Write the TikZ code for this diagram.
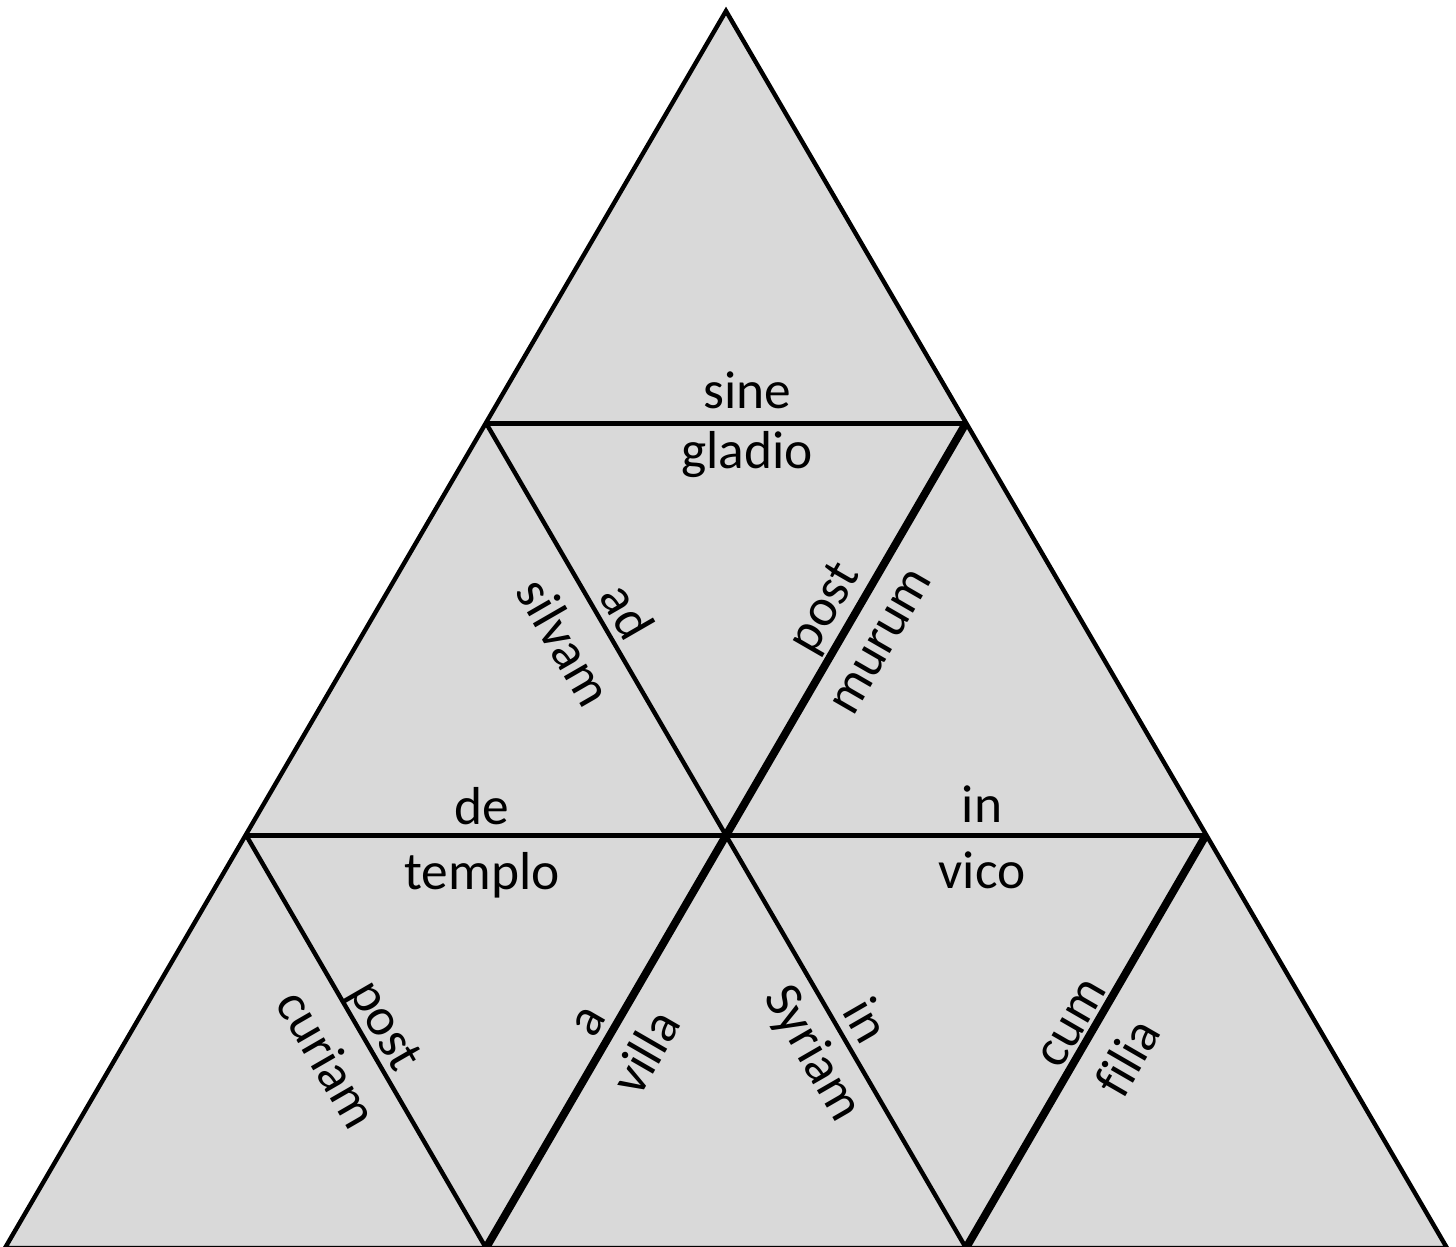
\documentclass[tikz,border=0pt]{standalone}
\usepackage{fontspec}
\setmainfont[Ligatures=NoCommon]{Carlito}
\definecolor{trifill}{HTML}{D9D9D9}
\begin{document}
\begin{tikzpicture}[x=0.5pt,y=-0.5pt,
  outline/.style={draw=black,line width=2.2pt,line join=miter},
  thinedge/.style={draw=black,line width=2.2pt},
  flatedge/.style={draw=black,line width=2.5pt},
  thickedge/.style={draw=black,line width=3.9pt},
  lbl/.style={inner sep=0pt,font=\fontsize{26.7}{32}\selectfont}]
\useasboundingbox (0,0) rectangle (1456,1247);
\coordinate (T) at (726,11);
\coordinate (L1) at (486,423);
\coordinate (R1) at (966,423);
\coordinate (L2) at (246,835);
\coordinate (M2) at (726,835);
\coordinate (R2) at (1206,835);
\coordinate (B0) at (5,1248);
\coordinate (B1) at (486,1248);
\coordinate (B2) at (966,1248);
\coordinate (B3) at (1447,1248);
\fill[trifill] (T) -- (B0) -- (B3) -- cycle;
\draw[flatedge] (L1) -- (R1);
\draw[flatedge] (L2) -- (R2);
\draw[thinedge] (L1) -- (B2);
\draw[thinedge] (L2) -- (B1);
\draw[thickedge] (R1) -- (B1);
\draw[thickedge] (R2) -- (B2);
\draw[outline] (T) -- (B0) -- (B3) -- cycle;
\node[lbl] (sine) at (747,390) {sine};
\node[lbl] (gladio) at (747,455) {gladio};
\node[lbl] (de) at (482,806) {de};
\node[lbl] (templo) at (482,875) {templo};
\node[lbl] (in1) at (982,804) {in};
\node[lbl] (vico) at (982,870) {vico};
\node[lbl,rotate=-60] (ad) at (628,611) {ad};
\node[lbl,rotate=-60] (silvam) at (565,642) {silvam};
\node[lbl,rotate=60] (post1) at (826,609) {post};
\node[lbl,rotate=60] (murum) at (882,642) {murum};
\node[lbl,rotate=-60] (post2) at (383,1027) {post};
\node[lbl,rotate=-60] (curiam) at (328,1059) {curiam};
\node[lbl,rotate=60] (a) at (590,1022) {a};
\node[lbl,rotate=60] (villa) at (645,1052) {villa};
\node[lbl,rotate=-60] (in2) at (867,1020) {in};
\node[lbl,rotate=-60] (syriam) at (812,1054) {Syriam};
\node[lbl,rotate=60] (cum) at (1073,1024) {cum};
\node[lbl,rotate=60] (filia) at (1127,1057) {filia};
\end{tikzpicture}
\end{document}
